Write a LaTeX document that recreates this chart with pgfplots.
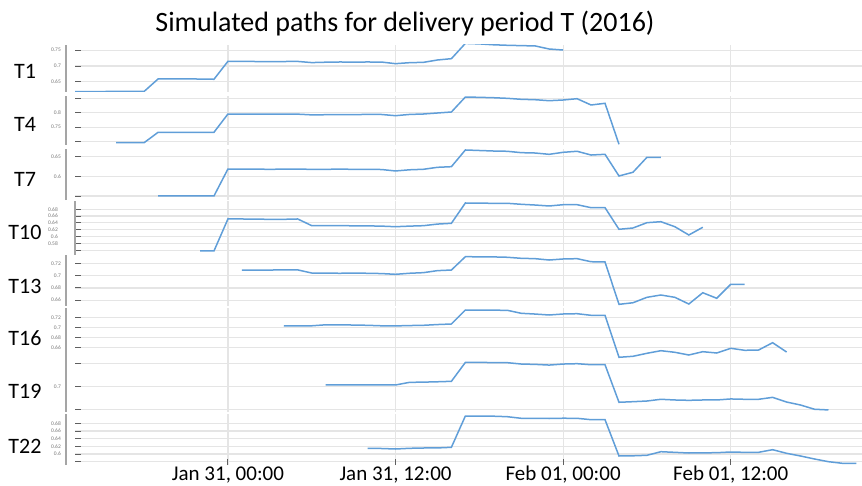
\documentclass[border=0pt]{standalone}
\usepackage{pgfplots}
\pgfplotsset{compat=1.18}
\usepackage{fontspec}
\setmainfont{Carlito}
\definecolor{gridc}{RGB}{229,229,229}
\definecolor{tickc}{RGB}{95,95,95}
\definecolor{barc}{RGB}{165,165,165}
\definecolor{labc}{RGB}{120,120,120}
\definecolor{linec}{RGB}{96,158,216}
\tikzset{barline/.style={barc, line width=2pt}}
\pgfplotsset{
  panel/.style={
    anchor=north west, width=787pt, scale only axis,
    xmin=-10.95, xmax=45.4,
    axis line style={draw=none},
    xtick={0,12,24,36}, xticklabels={},
    xmajorgrids, ymajorgrids,
    grid style={gridc, line width=1.2pt},
    major tick length=6pt, tick align=inside,
    ytick pos=left, xtick pos=bottom,
    tick style={tickc, line width=0.9pt},
    xmajorticks=false,
    yticklabel style={font=\fontsize{5.5}{6}\selectfont, text=labc, inner sep=0pt, xshift=-14pt},
    clip mode=individual,
    cycle list={{linec, mark=none}},
    every axis plot post/.append style={draw=linec, line width=1.5pt},
    /pgf/number format/assume math mode=true,
  },
}
\begin{document}
\begin{tikzpicture}
\path[use as bounding box] (0pt,0pt) rectangle (862pt,-486pt);
\node[anchor=base, font=\fontsize{28}{34}\selectfont] at (405pt,-32pt) {Simulated paths for delivery period T (2016)};
\foreach \lab/\yy in {T1/79,T4/131.7,T7/186.7,T10/240,T13/293.3,T16/345,T19/398.3,T22/453.3}{
  \node[anchor=base, font=\fontsize{22}{26}\selectfont] at (25pt,-\yy pt) {\lab};
}
% T1
\begin{axis}[panel, at={(75pt,-45pt)}, height=47pt, ymin=0.6177, ymax=0.7665,
  ytick={0.65,0.7,0.75}, yticklabels={0.65,0.7,0.75}]
\addplot[linec, line width=1.5pt] coordinates {(-11,0.619)(-10,0.619)(-9,0.6192)(-8,0.6195)(-7,0.6195)(-6,0.6195)(-5,0.659)(-4,0.659)(-3,0.659)(-2,0.6588)(-1,0.658)
(0,0.7148)(1,0.7148)(2,0.7142)(3,0.714)(4,0.7142)(5,0.7145)(6,0.7108)(7,0.712)(8,0.7127)(9,0.7125)(10,0.7127)(11,0.7125)(12,0.7074)(13,0.7105)(14,0.7116)(15,0.719)(16,0.7232)
(17,0.7715)(18,0.770)(19,0.7672)(20,0.7656)(21,0.7645)(22,0.7635)(23,0.7538)(24,0.7506)};
\draw[barline] ([xshift=-9pt]rel axis cs:0,0) -- ([xshift=-9pt]rel axis cs:0,1);
\end{axis}
% T4
\begin{axis}[panel, at={(75pt,-96pt)}, height=49pt, ymin=0.6886, ymax=0.8576,
  ytick={0.7,0.75,0.8,0.85}, yticklabels={,0.75,0.8,}]
\addplot[linec, line width=1.5pt] coordinates {(-8,0.6966)(-7,0.6966)(-6,0.6966)(-5,0.7324)(-4,0.7324)(-3,0.7324)(-2,0.7324)(-1,0.7324)
(0,0.7955)(1,0.7952)(2,0.7948)(3,0.7948)(4,0.7952)(5,0.795)(6,0.7925)(7,0.793)(8,0.7931)(9,0.7935)(10,0.794)(11,0.7938)(12,0.7897)(13,0.794)(14,0.7955)(15,0.799)(16,0.8024)
(17,0.8541)(18,0.853)(19,0.8517)(20,0.8496)(21,0.8462)(22,0.8448)(23,0.8414)(24,0.8438)(25,0.8483)(26,0.8266)(27,0.8324)(28,0.691)};
\draw[barline] ([xshift=-9pt]rel axis cs:0,0) -- ([xshift=-9pt]rel axis cs:0,1);
\end{axis}
% T7
\begin{axis}[panel, at={(75pt,-149pt)}, height=51pt, ymin=0.5398, ymax=0.6693,
  ytick={0.55,0.6,0.65}, yticklabels={,0.6,0.65}]
\addplot[linec, line width=1.5pt] coordinates {(-5,0.55)(-4,0.55)(-3,0.55)(-2,0.55)(-1,0.55)
(0,0.6185)(1,0.6185)(2,0.618)(3,0.6178)(4,0.618)(5,0.6185)(6,0.6175)(7,0.6178)(8,0.618)(9,0.6178)(10,0.6176)(11,0.6172)(12,0.6135)(13,0.6165)(14,0.6178)(15,0.6228)(16,0.6244)
(17,0.6668)(18,0.6655)(19,0.6642)(20,0.6635)(21,0.66)(22,0.6591)(23,0.6558)(24,0.6609)(25,0.6635)(26,0.654)(27,0.6558)(28,0.6008)(29,0.6102)(30,0.6482)(31,0.6482)};
\draw[barline] ([xshift=-9pt]rel axis cs:0,0) -- ([xshift=-9pt]rel axis cs:0,1);
\end{axis}
% T10
\begin{axis}[panel, at={(75pt,-201.5pt)}, height=53.5pt, ymin=0.5456, ymax=0.7029,
  ytick={0.56,0.58,0.6,0.62,0.64,0.66,0.68}, yticklabels={,0.58,0.6,0.62,0.64,0.66,0.68},
  yticklabel style={xshift=-3pt}]
\addplot[linec, line width=1.5pt] coordinates {(-2,0.5574)(-1,0.5574)
(0,0.6515)(1,0.6515)(2,0.651)(3,0.6505)(4,0.6505)(5,0.6515)(6,0.6318)(7,0.632)(8,0.6318)(9,0.6315)(10,0.6312)(11,0.6305)(12,0.6288)(13,0.6305)(14,0.6318)(15,0.6365)(16,0.6388)
(17,0.6985)(18,0.698)(19,0.6976)(20,0.6976)(21,0.6947)(22,0.6925)(23,0.6897)(24,0.6935)(25,0.6935)(26,0.6847)(27,0.6847)(28,0.6212)(29,0.625)(30,0.6406)(31,0.6435)(32,0.6288)(33,0.6044)(34,0.6271)};
\draw[barline] (rel axis cs:0,0) -- (rel axis cs:0,1);
\end{axis}
% T13
\begin{axis}[panel, at={(75pt,-255.5pt)}, height=50pt, ymin=0.6512, ymax=0.7331,
  ytick={0.66,0.68,0.7,0.72}, yticklabels={0.66,0.68,0.7,0.72}]
\addplot[linec, line width=1.5pt] coordinates {(1,0.7093)(2,0.7093)(3,0.7093)(4,0.7095)(5,0.7095)(6,0.7044)(7,0.7042)(8,0.704)(9,0.7042)(10,0.704)(11,0.7035)(12,0.7023)(13,0.704)(14,0.705)(15,0.7083)(16,0.7093)
(17,0.7311)(18,0.731)(19,0.7308)(20,0.7302)(21,0.7285)(22,0.7279)(23,0.7257)(24,0.7274)(25,0.7279)(26,0.7229)(27,0.7225)(28,0.6531)(29,0.6557)(30,0.6646)(31,0.6684)(32,0.6646)(33,0.6536)(34,0.6721)(35,0.663)(36,0.6859)(37,0.6859)};
\draw[barline] ([xshift=-9pt]rel axis cs:0,0) -- ([xshift=-9pt]rel axis cs:0,1);
\end{axis}
% T16
\begin{axis}[panel, at={(75pt,-308pt)}, height=50.5pt, ymin=0.6376, ymax=0.7386,
  ytick={0.66,0.68,0.7,0.72}, yticklabels={0.66,0.68,0.7,0.72}]
\addplot[linec, line width=1.5pt] coordinates {(4,0.7026)(5,0.7028)(6,0.703)(7,0.705)(8,0.705)(9,0.7045)(10,0.704)(11,0.703)(12,0.7028)(13,0.7035)(14,0.704)(15,0.7055)(16,0.7066)
(17,0.7346)(18,0.7345)(19,0.7342)(20,0.734)(21,0.728)(22,0.7265)(23,0.7246)(24,0.7266)(25,0.7272)(26,0.724)(27,0.724)(28,0.64)(29,0.642)(30,0.648)(31,0.6532)(32,0.65)(33,0.6446)(34,0.6512)(35,0.6486)(36,0.658)(37,0.654)(38,0.6546)(39,0.6692)(40,0.6506)};
\draw[barline] ([xshift=-9pt]rel axis cs:0,0) -- ([xshift=-9pt]rel axis cs:0,1);
\end{axis}
% T19
\begin{axis}[panel, at={(75pt,-359pt)}, height=53pt, ymin=0.6779, ymax=0.7242,
  ytick={0.68,0.7,0.72}, yticklabels={,0.7,}]
\addplot[linec, line width=1.5pt] coordinates {(7,0.7015)(8,0.7015)(9,0.7016)(10,0.7017)(11,0.7016)(12,0.7015)(13,0.7038)(14,0.704)(15,0.7043)(16,0.7047)
(17,0.7212)(18,0.7212)(19,0.7211)(20,0.721)(21,0.7198)(22,0.7195)(23,0.7189)(24,0.7198)(25,0.7201)(26,0.7192)(27,0.7192)(28,0.6864)(29,0.6869)(30,0.6875)(31,0.689)(32,0.6884)(33,0.6881)(34,0.6884)(35,0.6884)(36,0.6893)(37,0.689)(38,0.689)(39,0.6907)(40,0.6866)(41,0.684)(42,0.6803)(43,0.6797)};
\draw[barline] ([xshift=-9pt]rel axis cs:0,0) -- ([xshift=-9pt]rel axis cs:0,1);
\end{axis}
% T22
\begin{axis}[panel, at={(75pt,-414pt)}, height=51pt, ymin=0.5716, ymax=0.7042,
  ytick={0.58,0.6,0.62,0.64,0.66,0.68}, yticklabels={,0.6,0.62,0.64,0.66,0.68},
  xmajorticks=true,
  xticklabels={{Jan 31, 00:00},{Jan 31, 12:00},{Feb 01, 00:00},{Feb 01, 12:00}},
  xticklabel style={font=\fontsize{21}{25}\selectfont, anchor=base, yshift=-15pt}]
\addplot[linec, line width=1.5pt] coordinates {(10,0.615)(11,0.6145)(12,0.6132)(13,0.615)(14,0.6158)(15,0.616)(16,0.6176)
(17,0.699)(18,0.699)(19,0.6985)(20,0.6972)(21,0.693)(22,0.6928)(23,0.6925)(24,0.6932)(25,0.693)(26,0.6894)(27,0.6894)(28,0.595)(29,0.5955)(30,0.5968)(31,0.6062)(32,0.6045)(33,0.6028)(34,0.6032)(35,0.6036)(36,0.6054)(37,0.6045)(38,0.6046)(39,0.6114)(40,0.602)(41,0.595)(42,0.5872)(43,0.5802)(44,0.576)(45,0.576)};
\draw[barline] ([xshift=-9pt]rel axis cs:0,0) -- ([xshift=-9pt]rel axis cs:0,1);
\end{axis}
\end{tikzpicture}
\end{document}
